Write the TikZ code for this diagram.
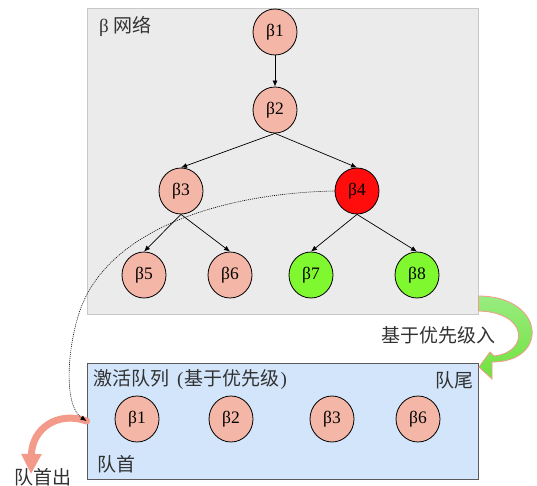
\documentclass[tikz,border=0pt]{standalone}
\usepackage{fontspec}
\setmainfont{Liberation Serif}
\newfontfamily\cjk{Noto Sans CJK SC}
\usetikzlibrary{arrows.meta,shapes.geometric}

\definecolor{nodepink}{RGB}{244,182,166}
\definecolor{hotred}{RGB}{255,12,12}
\definecolor{leafgreen}{RGB}{128,248,48}
\definecolor{netfill}{RGB}{235,235,235}
\definecolor{netline}{RGB}{200,200,200}
\definecolor{queuefill}{RGB}{210,229,250}
\definecolor{queueline}{RGB}{90,90,90}
\definecolor{salmon}{RGB}{243,154,138}
\definecolor{lightgreen}{RGB}{152,236,128}
\definecolor{deepgreen}{RGB}{112,226,60}
\definecolor{textgrey}{RGB}{50,50,50}

\begin{document}
\begin{tikzpicture}[x=1pt,y=-1pt,
  bnode/.style={ellipse, draw=black, line width=0.8pt, fill=nodepink,
    minimum width=44pt, minimum height=46pt, inner sep=0pt,
    font=\fontsize{17.5}{17.5}\selectfont},
  edge/.style={-{Latex[length=6pt,width=5pt]}, line width=0.7pt},
  lbl/.style={font=\cjk\fontsize{19}{19}\selectfont, text=textgrey, inner sep=0pt},
  panel/.style={rectangle, inner sep=0pt, line width=0.8pt}
]
\useasboundingbox (0,0) rectangle (537,486);

% the two panels
\node[panel, draw=netline, fill=netfill, minimum width=391pt, minimum height=306pt]
  (net) at (282.5,161) {};
\node[panel, draw=queueline, fill=queuefill, minimum width=391pt, minimum height=116pt]
  (queue) at (282.5,421) {};

% network tree
\node[bnode] (b1) at (275,32) {β1};
\node[bnode] (b2) at (275,110) {β2};
\node[bnode] (b3) at (181,191) {β3};
\node[bnode, fill=hotred] (b4) at (357,191) {β4};
\node[bnode] (b5) at (144,275) {β5};
\node[bnode] (b6) at (230,275) {β6};
\node[bnode, fill=leafgreen] (b7) at (311,275) {β7};
\node[bnode, fill=leafgreen] (b8) at (417,275) {β8};

\draw[edge] (b1) -- (b2);
\draw[edge] (b2.south) -- (b3.north);
\draw[edge] (b2.south) -- (b4.north);
\draw[edge] (b3.south) -- (b5.north);
\draw[edge] (b3.south) -- (b6.north);
\draw[edge] (b4.south) -- (b7.north);
\draw[edge] (b4.south) -- (b8.north);

% activation queue
\node[bnode] (q1) at (137,419) {β1};
\node[bnode] (q2) at (231,419) {β2};
\node[bnode] (q3) at (332,419) {β3};
\node[bnode] (q4) at (418,419) {β6};

% labels
\node[lbl, anchor=west] (netlabel) at (99,26) {{\rmfamily β} 网络};
\node[lbl, anchor=west] (qlabel) at (93,380)
  {激活队列\hspace{8pt}{\rmfamily(}\hspace{1pt}基于优先级\hspace{1pt}{\rmfamily)}};
\node[lbl, anchor=east] (tail) at (474,380) {队尾};
\node[lbl, anchor=west] (head) at (97,464) {队首};
\node[lbl, anchor=east] (enq) at (496,335) {基于优先级入};

% dequeue arrow
\coordinate (outtip) at (31,474);
\draw[salmon, line width=7pt, line cap=round, -{Triangle[length=20pt,width=19pt]}]
  (queue.west) .. controls (58,411) and (32,428) .. (outtip);
\node[lbl, anchor=west] (deq) at (14,477) {队首出};

% dotted path from the selected node into the queue head
\coordinate (bend) at (82,305);
\draw[line width=0.6pt, dash pattern=on 1pt off 1pt, -{Latex[length=6pt,width=5pt]}]
  (b4.west) .. controls (230,193) and (115,225) .. (bend)
  .. controls (68,340) and (62,405) .. (queue.west);

% enqueue arrow
\shade[top color=lightgreen, bottom color=deepgreen, draw=salmon, line width=0.8pt]
  (net.east |- 0,296) .. controls (545,296) and (550,362) .. (492,362)
  -- (492,379) -- (479,367) -- (490,352) -- (494,356)
  .. controls (530,352) and (528,312) .. (net.east |- 0,311) -- cycle;
\end{tikzpicture}
\end{document}
